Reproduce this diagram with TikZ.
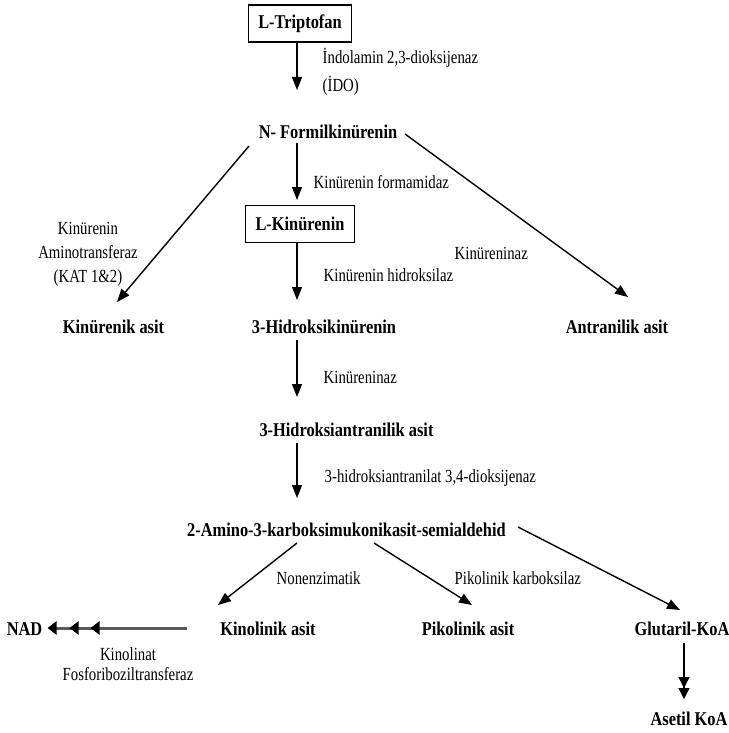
\documentclass[tikz,border=0pt]{standalone}
\usepackage{fontspec}
\setmainfont{Liberation Serif}
\newfontfamily\metfont{Liberation Serif}[FakeStretch=0.84]
\newfontfamily\enzfont{Liberation Serif}[FakeStretch=0.8]
\usetikzlibrary{arrows.meta}

\begin{document}
\begin{tikzpicture}[x=1pt,y=-1pt,line width=1.4pt,>={Triangle[length=13pt,width=10pt]}]
    \tikzset{met/.style={font=\metfont\bfseries\fontsize{19.5}{24}\selectfont,inner sep=0pt},
      metbox/.style={met,draw,line width=1.4pt,inner xsep=10pt,minimum height=37pt},
      enz/.style={font=\enzfont\fontsize{18.5}{24}\selectfont,anchor=west,inner sep=0pt}}
    \useasboundingbox (0,0) rectangle (728,733);
    % metabolites
    \node[metbox] (t) at (300,23.5) {L-Triptofan};
    \node[met] (nf) at (328,132) {N- Formilkinürenin};
    \node[metbox] (lk) at (300,224) {L-Kinürenin};
    \node[met] (ka) at (113.5,327) {Kinürenik asit};
    \node[met] (hk) at (324,327) {3-Hidroksikinürenin};
    \node[met] (an) at (617,327) {Antranilik asit};
    \node[met] (ha) at (346.5,430) {3-Hidroksiantranilik asit};
    \node[met] (ac) at (346.5,530) {2-Amino-3-karboksimukonikasit-semialdehid};
    \node[met] (kl) at (268,629) {Kinolinik asit};
    \node[met] (pa) at (468,629) {Pikolinik asit};
    \node[met] (gk) at (682,629) {Glutaril-KoA};
    \node[met] (nad) at (24.5,629) {NAD};
    \node[met] (ak) at (689,719) {Asetil KoA};
    % enzymes
    \node[enz,align=left] (ido) at (322,71.5) {İndolamin 2,3-dioksijenaz\\[4pt](İDO)};
    \node[enz] (kf) at (313,182) {Kinürenin formamidaz};
    \node[enz,anchor=center,align=center] (kat) at (88,254) {Kinürenin\\Aminotransferaz\\(KAT 1\&2)};
    \node[enz] (kh) at (323,275) {Kinürenin hidroksilaz};
    \node[enz] (kz1) at (454,253) {Kinüreninaz};
    \node[enz] (kz2) at (323,377) {Kinüreninaz};
    \node[enz] (hd) at (324,478) {3-hidroksiantranilat 3,4-dioksijenaz};
    \node[enz] (ne) at (276,578) {Nonenzimatik};
    \node[enz] (pk) at (454,578) {Pikolinik karboksilaz};
    \node[enz,anchor=center,align=center] (qp) at (128,664) {Kinolinat\\[-4pt]Fosforiboziltransferaz};
    % reactions
    \path[->]
    ([shift={(-3,18.5)}]t.center) edge ([shift={(-31,-42)}]nf.center)
    ([shift={(-31,11)}]nf.center) edge ([shift={(-3,-24)}]lk.center)
    ([shift={(-79,14)}]nf.center) edge ([shift={(3.5,-25)}]ka.center)
    ([shift={(77,2)}]nf.center) edge ([shift={(11,-30)}]an.center)
    ([shift={(-3,18)}]lk.center) edge ([shift={(-27,-27)}]hk.center)
    ([shift={(-27,13)}]hk.center) edge ([shift={(-49.5,-33)}]ha.center)
    ([shift={(-49.5,13)}]ha.center) edge ([shift={(-49.5,-32)}]ac.center)
    ([shift={(-49.5,13)}]ac.center) edge ([shift={(-50,-24)}]kl.center)
    ([shift={(27.5,13)}]ac.center) edge ([shift={(4,-24)}]pa.center)
    ([shift={(171.5,-3)}]ac.center) edge ([shift={(-2,-19)}]gk.center)
    ;
    \draw[-{Triangle[length=11pt,width=11pt,sep=0pt]Triangle[length=11pt,width=11pt]}]
    ([shift={(2,14)}]gk.center) -- ([shift={(-5,-20)}]ak.center);
    \draw[black!65,line width=3pt,-{Triangle[length=9pt,width=13pt,sep=12pt,black]Triangle[length=9pt,width=13pt,sep=13pt,black]Triangle[length=9pt,width=13pt,black]}]
    ([shift={(-81,-1)}]kl.center) -- ([shift={(23,-1)}]nad.center);
  \end{tikzpicture}
\end{document}
